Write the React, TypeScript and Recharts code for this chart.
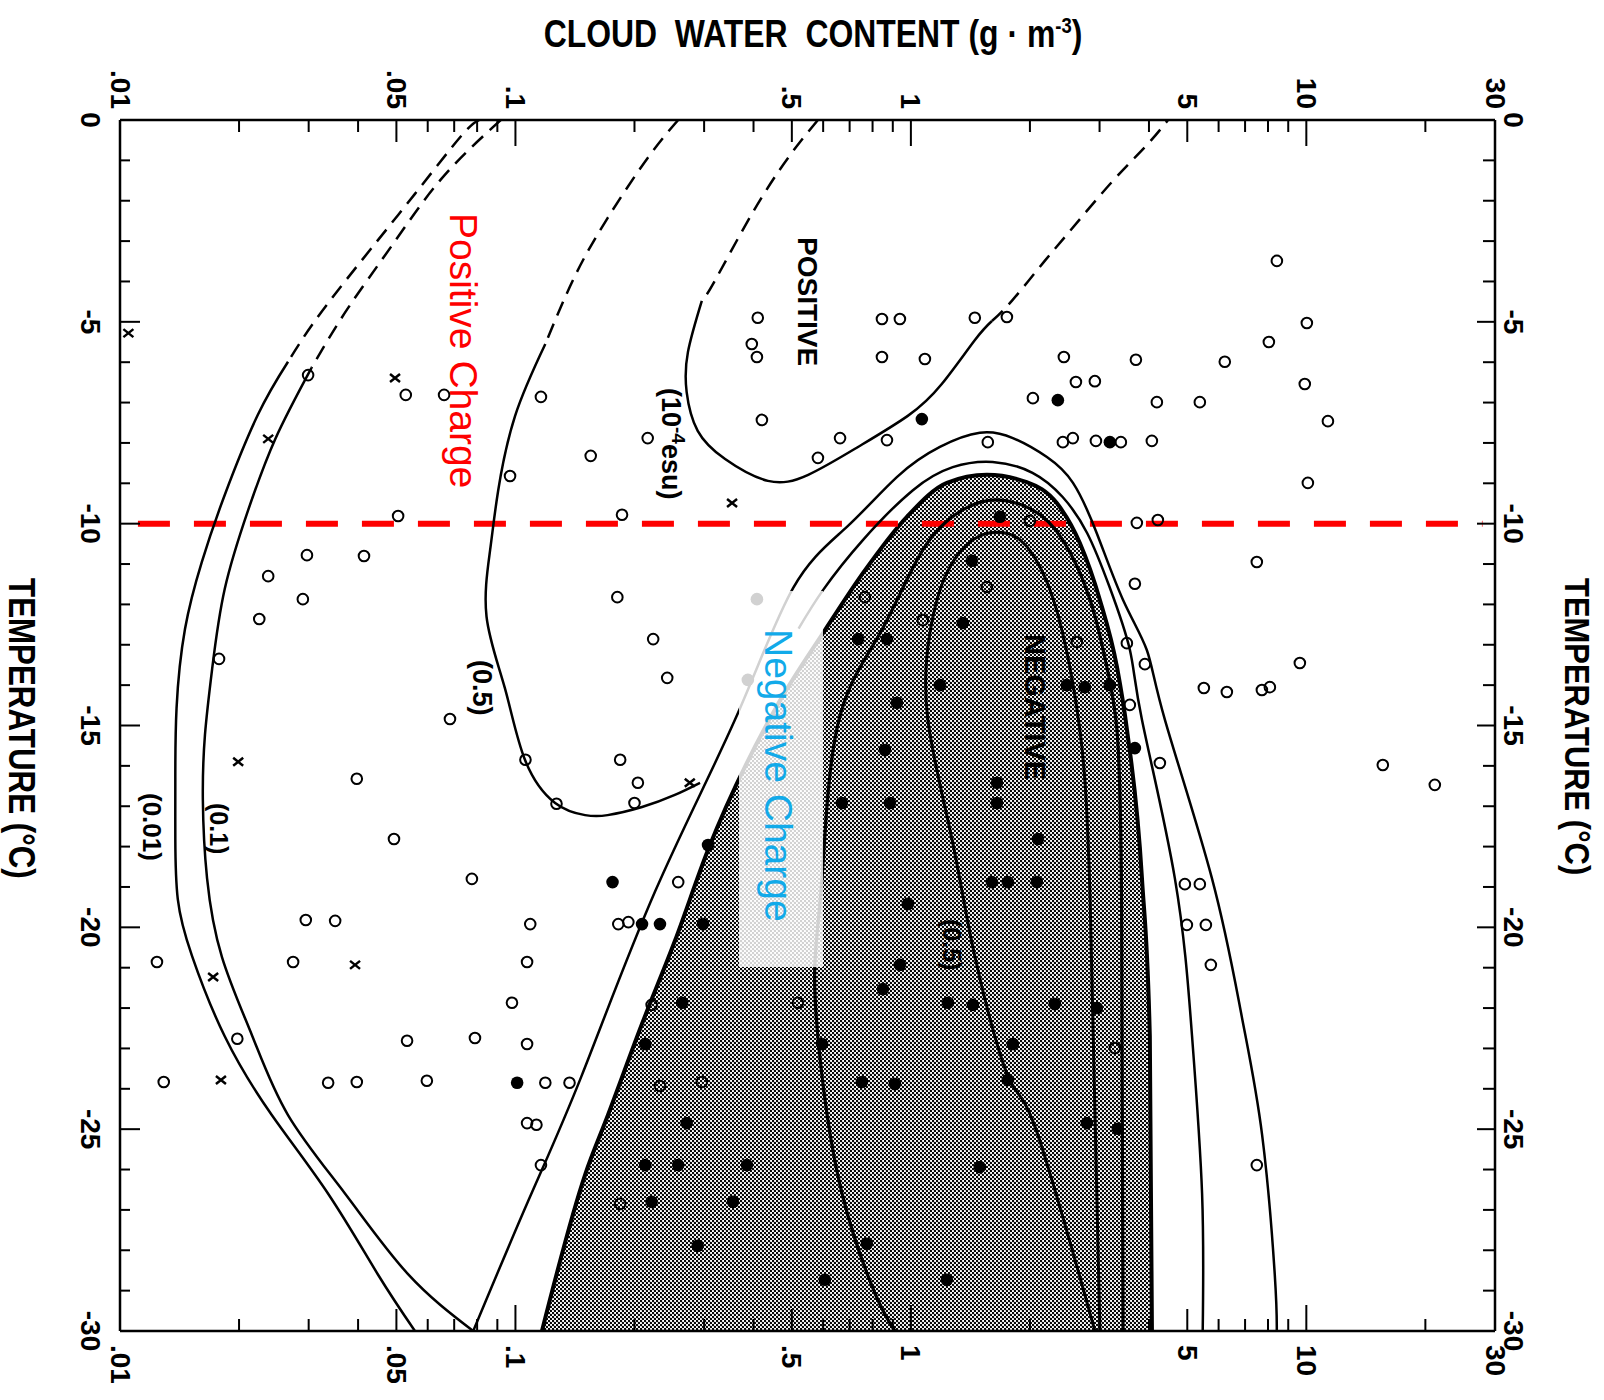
import React from 'react'
import { ComposedChart, XAxis, YAxis, Scatter, Area, ReferenceLine } from 'recharts'

// every pair is [cloud water content g/m3, temperature °C]
type Pt = [number, number]

const FONT = '"Liberation Sans", Arial, sans-serif'
const DASH = '15 9'

const LWC_TICKS = [
  0.01, 0.02, 0.03, 0.04, 0.05, 0.06, 0.07, 0.08, 0.09,
  0.1, 0.2, 0.3, 0.4, 0.5, 0.6, 0.7, 0.8, 0.9,
  1, 2, 3, 4, 5, 6, 7, 8, 9, 10, 20, 30
]
const LWC_LABELS = new Map<number, string>([
  [0.01, '.01'], [0.05, '.05'], [0.1, '.1'], [0.5, '.5'],
  [1, '1'], [5, '5'], [10, '10'], [30, '30']
])
const TEMP_TICKS = [
  0, -1, -2, -3, -4, -5, -6, -7, -8, -9, -10, -11, -12, -13, -14, -15,
  -16, -17, -18, -19, -20, -21, -22, -23, -24, -25, -26, -27, -28, -29, -30
]
const TEMP_LABELS = new Map<number, string>([
  [0, '0'], [-5, '-5'], [-10, '-10'], [-15, '-15'], [-20, '-20'], [-25, '-25'], [-30, '-30']
])

// positive contours, left side
const OUTER_DASHED: Pt[] = [[0.0809, 0], [0.0733, -0.37], [0.0557, -1.83], [0.04, -3.59], [0.0311, -4.98], [0.0266, -5.99]]
const OUTER_SOLID: Pt[] = [
  [0.0266, -5.99], [0.0223, -7.31], [0.0184, -9.29], [0.0161, -10.95], [0.0146, -12.61], [0.0139, -14.57],
  [0.0138, -16.4], [0.0138, -17.8], [0.014, -19.3], [0.0152, -20.7], [0.0184, -22.7], [0.0242, -24.65],
  [0.0336, -26.6], [0.0449, -28.6], [0.0557, -30]
]
const INNER_DASHED: Pt[] = [[0.0918, 0], [0.0652, -1.44], [0.0488, -3.1], [0.0376, -4.68], [0.0305, -6.14]]
const INNER_SOLID: Pt[] = [
  [0.0305, -6.14], [0.0247, -7.9], [0.0211, -9.66], [0.0184, -11.62], [0.0171, -13.6], [0.0164, -15.23],
  [0.0162, -16.84], [0.0166, -18.78], [0.0181, -20.73], [0.0216, -22.69], [0.0266, -24.65], [0.0371, -26.6],
  [0.0535, -28.59], [0.0782, -30]
]
const HALF_DASHED: Pt[] = [[0.258, 0], [0.216, -0.94], [0.171, -2.43], [0.141, -3.89], [0.119, -5.55]]
const HALF_SOLID: Pt[] = [
  [0.119, -5.55], [0.0998, -7.33], [0.0904, -9.19], [0.0863, -10.65], [0.0845, -12.3], [0.094, -14.07],
  [0.1057, -15.85], [0.126, -16.92], [0.15, -17.22], [0.171, -17.22], [0.209, -17.02], [0.253, -16.72], [0.293, -16.42]
]
const ESU_DASHED_L: Pt[] = [[0.582, 0], [0.489, -0.94], [0.396, -2.33], [0.319, -3.99], [0.296, -4.48]]
const ESU_SOLID: Pt[] = [
  [0.296, -4.48], [0.273, -5.75], [0.271, -6.74], [0.289, -7.7], [0.339, -8.4], [0.435, -8.94], [0.55, -8.79],
  [0.735, -8.1], [0.982, -7.33], [1.197, -6.54], [1.452, -5.45], [1.603, -4.98]
]
const ESU_DASHED_R: Pt[] = [[1.603, -4.98], [1.8, -4.48], [2.18, -3.49], [2.49, -2.82], [3.22, -1.54], [3.91, -0.67], [4.47, 0]]

// negative side contours
const ZERO_LINE: Pt[] = [
  [0.0782, -30], [0.1075, -26.8], [0.147, -23.68], [0.2253, -19.12], [0.359, -14.86], [0.504, -11.59],
  [0.689, -10.08], [0.923, -8.84], [1.184, -8.1], [1.494, -7.75], [1.811, -7.88], [2.208, -8.35], [2.57, -8.99],
  [2.95, -10.23], [3.44, -11.89], [3.95, -13.13], [4.39, -14.86], [5.77, -18.78], [6.87, -22.22], [7.73, -25.14],
  [8.32, -28.59], [8.42, -30]
]
const NEG_SECOND: Pt[] = [
  [0.52, -12.6], [0.6, -11.64], [0.757, -10.4], [1.012, -9.17], [1.276, -8.6], [1.61, -8.47], [2.03, -8.74],
  [2.42, -9.34], [2.79, -10.23], [3.18, -11.57], [3.58, -13.13], [3.84, -14.86], [4.65, -18.78], [5.14, -22.69],
  [5.45, -26.6], [5.47, -30]
]
const SHADE_TOP: Pt[] = [
  [0.1167, -30], [0.15, -26.13], [0.1714, -24.65], [0.209, -22.39], [0.253, -20.34], [0.307, -18.08],
  [0.458, -14.52], [0.607, -12.63], [0.757, -11.22], [0.977, -9.83], [1.233, -8.99], [1.556, -8.79],
  [1.963, -8.97], [2.339, -9.49], [2.675, -10.48], [3.006, -11.89], [3.32, -13.55], [3.52, -15.11],
  [3.84, -18.78], [4.02, -22.69], [4.07, -30]
]
const NEG_THIRD: Pt[] = [
  [0.912, -30], [0.811, -29.06], [0.67, -26.6], [0.596, -23.68], [0.571, -21.13], [0.596, -18.78],
  [0.653, -14.99], [0.836, -12.71], [1.072, -10.65], [1.352, -9.66], [1.648, -9.41], [2.03, -9.66],
  [2.42, -10.4], [2.84, -11.89], [3.13, -13.55], [3.32, -15.11], [3.41, -19.32], [3.44, -30]
]
const NEG_INNER: Pt[] = [
  [2.92, -30], [2.06, -24.94], [1.758, -23.68], [1.452, -20.73], [1.27, -17.81], [1.104, -14.86],
  [1.117, -12.71], [1.233, -11.22], [1.435, -10.4], [1.648, -10.21], [1.888, -10.4], [2.158, -11.22],
  [2.42, -12.71], [2.675, -15.11], [2.84, -19.32], [3.006, -30]
]

const OPEN_POINTS: Pt[] = [
  [0.0299, -6.32], [0.0528, -6.81], [0.066, -6.81], [0.116, -6.86], [0.0969, -8.82], [0.155, -8.32],
  [0.0505, -9.81], [0.0297, -10.78], [0.0414, -10.8], [0.0237, -11.3], [0.029, -11.87], [0.0225, -12.36],
  [0.0178, -13.35], [0.0683, -14.84],
  [0.41, -4.9], [0.396, -5.55], [0.408, -5.87], [0.845, -4.93], [0.938, -4.93], [1.451, -4.9], [1.749, -4.88],
  [0.845, -5.87], [1.085, -5.92], [2.035, -6.89], [0.42, -7.43], [0.662, -7.88], [0.87, -7.93], [1.565, -7.98],
  [0.582, -8.37], [0.216, -7.88], [0.186, -9.78], [0.181, -11.82], [0.223, -12.86], [0.242, -13.82],
  [2.423, -7.98], [2.568, -7.88], [2.937, -7.95], [3.396, -7.98], [4.068, -7.95], [4.188, -6.99], [5.379, -6.99],
  [3.727, -9.98], [4.212, -9.91], [3.685, -11.49], [5.506, -14.07], [3.517, -12.96], [3.906, -13.48], [3.578, -14.49],
  [8.424, -3.49], [10.03, -5.03], [8.04, -5.5], [6.22, -5.99], [2.437, -5.87], [3.707, -5.94], [2.614, -6.49],
  [2.919, -6.47], [9.91, -6.54], [11.34, -7.46], [10.09, -8.99], [7.495, -10.95], [9.63, -13.45], [6.295, -14.17],
  [7.72, -14.12], [8.087, -14.05], [4.262, -15.93], [15.61, -15.98], [21.13, -16.47], [4.93, -18.93], [5.379, -18.93],
  [4.988, -19.94], [5.571, -19.94], [5.735, -20.93], [7.495, -25.89], [3.28, -22.99],
  [0.0397, -16.32], [0.0493, -17.81], [0.0776, -18.8], [0.0295, -19.82], [0.035, -19.84], [0.0124, -20.86],
  [0.0274, -20.86], [0.109, -19.92], [0.107, -20.86], [0.098, -21.87], [0.0198, -22.76], [0.0532, -22.81],
  [0.079, -22.74], [0.107, -22.89], [0.0129, -23.83], [0.0336, -23.85], [0.0397, -23.83], [0.0597, -23.8],
  [0.119, -23.85], [0.137, -23.85], [0.107, -24.85], [0.113, -24.89], [0.116, -25.89], [0.106, -15.85],
  [0.127, -16.94], [0.184, -15.85], [0.204, -16.42], [0.2, -16.92], [0.258, -18.88], [0.182, -19.92],
  [0.193, -19.87], [0.221, -21.92], [0.232, -23.93], [0.296, -23.83], [0.184, -26.85], [0.518, -21.87],
  [0.765, -11.82], [1.072, -12.39], [1.556, -11.57], [2.0, -9.93], [2.629, -12.93]
]
const FILLED_POINTS: Pt[] = [
  [1.066, -7.41], [2.353, -6.94], [3.186, -7.98], [1.426, -10.92], [1.353, -12.46], [0.735, -12.86], [0.87, -12.86],
  [1.679, -9.83], [1.184, -14.0], [0.922, -14.44], [2.48, -14.0], [2.754, -14.05], [3.186, -14.0], [0.86, -15.61],
  [3.685, -15.56], [0.669, -16.92], [0.885, -16.92], [1.651, -16.42], [1.651, -16.92], [2.095, -17.81],
  [1.603, -18.88], [1.759, -18.88], [2.083, -18.88], [0.983, -19.42], [0.938, -20.93], [0.85, -21.53],
  [1.241, -21.87], [1.435, -21.92], [2.312, -21.9], [2.953, -22.0], [0.596, -22.89], [1.811, -22.89],
  [0.752, -23.83], [0.911, -23.88], [1.759, -23.78], [2.786, -24.85], [3.337, -24.99], [1.494, -25.94],
  [0.774, -27.84], [0.606, -28.73], [1.233, -28.73], [0.307, -17.96], [0.176, -18.88], [0.209, -19.92],
  [0.232, -19.92], [0.298, -19.92], [0.264, -21.87], [0.213, -22.89], [0.271, -24.85], [0.213, -25.89],
  [0.258, -25.89], [0.385, -25.89], [0.221, -26.8], [0.355, -26.8], [0.289, -27.89], [0.101, -23.85],
  [0.408, -11.87], [0.387, -13.87]
]
const CROSS_POINTS: Pt[] = [
  [0.0105, -5.28], [0.0237, -7.9], [0.0496, -6.39], [0.353, -9.49], [0.0199, -15.9], [0.0393, -20.93],
  [0.0172, -21.23], [0.018, -23.78], [0.276, -16.42]
]

const REVERSAL_T = -10
const REVERSAL_SPAN: [number, number] = [0.0111, 27.9]

const rows = (pts: Pt[]) => pts.map(([w, t]) => ({ w, t }))

const AXIS_LINE = { stroke: '#000', strokeWidth: 2.5 }
const LABEL_STYLE = { fontFamily: FONT, fontWeight: 700, fontSize: 28, fill: '#000' }

function tickLen(v: number, major: boolean) {
  if (!major) return 12
  return [0.1, 1, 10].includes(v) ? 26 : 22
}

function TopTick(p: any) {
  const v = p.payload.value
  const label = LWC_LABELS.get(v)
  return (
    <g>
      <line x1={p.x} y1={p.y} x2={p.x} y2={p.y + tickLen(v, !!label)} stroke="#000" strokeWidth={2} />
      {label && (
        <text transform={`translate(${p.x},${p.y - 11}) rotate(90)`} textAnchor="end" dominantBaseline="central" {...LABEL_STYLE}>
          {label}
        </text>
      )}
    </g>
  )
}

function BottomTick(p: any) {
  const v = p.payload.value
  const label = LWC_LABELS.get(v)
  return (
    <g>
      <line x1={p.x} y1={p.y} x2={p.x} y2={p.y - tickLen(v, !!label)} stroke="#000" strokeWidth={2} />
      {label && (
        <text transform={`translate(${p.x},${p.y + 14}) rotate(90)`} textAnchor="start" dominantBaseline="central" {...LABEL_STYLE}>
          {label}
        </text>
      )}
    </g>
  )
}

function LeftTick(p: any) {
  const v = p.payload.value
  const label = TEMP_LABELS.get(v)
  return (
    <g>
      <line x1={p.x} y1={p.y} x2={p.x + (label ? 20 : 10)} y2={p.y} stroke="#000" strokeWidth={2} />
      {label && (
        <text transform={`translate(${p.x - 30},${p.y}) rotate(90)`} textAnchor="middle" dominantBaseline="central" {...LABEL_STYLE}>
          {label}
        </text>
      )}
    </g>
  )
}

function RightTick(p: any) {
  const v = p.payload.value
  const label = TEMP_LABELS.get(v)
  return (
    <g>
      <line x1={p.x} y1={p.y} x2={p.x - (label ? 18 : 12)} y2={p.y} stroke="#000" strokeWidth={2} />
      {label && (
        <text transform={`translate(${p.x + 18},${p.y}) rotate(90)`} textAnchor="middle" dominantBaseline="central" {...LABEL_STYLE}>
          {label}
        </text>
      )}
    </g>
  )
}

const openDot = (p: any) => <circle cx={p.cx} cy={p.cy} r={5.3} fill="none" stroke="#000" strokeWidth={2} />
const filledDot = (p: any) => <circle cx={p.cx} cy={p.cy} r={6.3} fill="#000" />
const crossMark = (p: any) => (
  <path
    d={`M${p.cx - 5},${p.cy - 4}L${p.cx + 5},${p.cy + 4}M${p.cx - 5},${p.cy + 4}L${p.cx + 5},${p.cy - 4}`}
    stroke="#000"
    strokeWidth={2.5}
    fill="none"
  />
)

function contour(key: string, pts: Pt[], width: number, dash?: string) {
  return (
    <Scatter
      key={key}
      data={rows(pts)}
      xAxisId="b"
      yAxisId="l"
      fill="none"
      line={{ stroke: '#000', strokeWidth: width, strokeDasharray: dash, fill: 'none' }}
      lineJointType="natural"
      shape={() => <g />}
      isAnimationActive={false}
    />
  )
}

function rotText(x: number, y: number, size: number, color: string, weight: number, content: React.ReactNode, squeeze = 1) {
  return (
    <text
      transform={`translate(${x},${y}) rotate(90) scale(${squeeze},1)`}
      fontFamily={FONT}
      fontSize={size}
      fontWeight={weight}
      fill={color}
    >
      {content}
    </text>
  )
}

export default function App() {
  return (
    <div style={{ position: 'absolute', left: 0, top: 0, width: 1604, height: 1400, background: '#fff' }}>
      <svg width={0} height={0} style={{ position: 'absolute' }}>
        <defs>
          <pattern id="halftone" width={4} height={4} patternUnits="userSpaceOnUse">
            <rect width={4} height={4} fill="#fff" />
            <circle cx={1} cy={1} r={1.2} fill="#000" />
            <circle cx={3} cy={3} r={1.2} fill="#000" />
          </pattern>
        </defs>
      </svg>
      <ComposedChart width={1604} height={1400} margin={{ top: 0, right: 0, bottom: 0, left: 0 }}>
        <XAxis
          xAxisId="b" orientation="bottom" dataKey="w" type="number" scale="log" domain={[0.01, 30]} allowDataOverflow
          ticks={LWC_TICKS} interval={0} height={69} tickSize={0} tickMargin={0} tickLine={false} axisLine={AXIS_LINE}
          tick={(p: any) => <BottomTick {...p} />}
        />
        <XAxis
          xAxisId="t" orientation="top" dataKey="w" type="number" scale="log" domain={[0.01, 30]} allowDataOverflow
          ticks={LWC_TICKS} interval={0} height={120} tickSize={0} tickMargin={0} tickLine={false} axisLine={AXIS_LINE}
          tick={(p: any) => <TopTick {...p} />}
        />
        <YAxis
          yAxisId="l" orientation="left" dataKey="t" type="number" domain={[-30, 0]} allowDataOverflow
          ticks={TEMP_TICKS} interval={0} width={120} tickSize={0} tickMargin={0} tickLine={false} axisLine={AXIS_LINE}
          tick={(p: any) => <LeftTick {...p} />}
        />
        <YAxis
          yAxisId="r" orientation="right" dataKey="t" type="number" domain={[-30, 0]} allowDataOverflow
          ticks={TEMP_TICKS} interval={0} width={109} tickSize={0} tickMargin={0} tickLine={false} axisLine={AXIS_LINE}
          tick={(p: any) => <RightTick {...p} />}
        />

        <Area
          data={rows(SHADE_TOP)} xAxisId="b" yAxisId="l" dataKey="t" baseValue={-30} type="monotone"
          fill="url(#halftone)" fillOpacity={1} stroke="#000" strokeWidth={4} dot={false} activeDot={false}
          isAnimationActive={false}
        />

        {contour('outerD', OUTER_DASHED, 2.5, DASH)}
        {contour('outerS', OUTER_SOLID, 2.5)}
        {contour('innerD', INNER_DASHED, 2.5, DASH)}
        {contour('innerS', INNER_SOLID, 2.5)}
        {contour('halfD', HALF_DASHED, 2.5, DASH)}
        {contour('halfS', HALF_SOLID, 2.5)}
        {contour('esuDL', ESU_DASHED_L, 2.5, DASH)}
        {contour('esuS', ESU_SOLID, 2.5)}
        {contour('esuDR', ESU_DASHED_R, 2.5, DASH)}
        {contour('zero', ZERO_LINE, 2.5)}
        {contour('neg2', NEG_SECOND, 2.5)}
        {contour('neg3', NEG_THIRD, 3.2)}
        {contour('neg4', NEG_INNER, 3)}

        <Scatter data={rows(OPEN_POINTS)} xAxisId="b" yAxisId="l" shape={openDot} isAnimationActive={false} />
        <Scatter data={rows(FILLED_POINTS)} xAxisId="b" yAxisId="l" shape={filledDot} isAnimationActive={false} />
        {/* crosses sit on the top/right axes (same scales) so those axes get data too */}
        <Scatter data={rows(CROSS_POINTS)} xAxisId="t" yAxisId="r" shape={crossMark} isAnimationActive={false} />

        <ReferenceLine
          xAxisId="b" yAxisId="l"
          segment={[{ x: REVERSAL_SPAN[0], y: REVERSAL_T }, { x: REVERSAL_SPAN[1], y: REVERSAL_T }]}
          stroke="#fe0000" strokeWidth={6} strokeDasharray="32 24"
        />
      </ComposedChart>

      <svg width={1604} height={1400} style={{ position: 'absolute', left: 0, top: 0, pointerEvents: 'none' }}>
        <g transform="translate(813,47) scale(0.84,1)">
          <text textAnchor="middle" fontFamily={FONT} fontSize={38} fontWeight={700} style={{ whiteSpace: 'pre' }}>
            {'CLOUD  WATER  CONTENT (g · m'}
            <tspan dy={-14} fontSize={22}>-3</tspan>
            <tspan dy={14}>)</tspan>
          </text>
        </g>
        {rotText(9, 578, 36, '#000', 700, 'TEMPERATURE (°C)', 0.87)}
        {rotText(1565, 578, 36, '#000', 700, 'TEMPERATURE (°C)', 0.86)}

        {rotText(450, 213, 39, '#fe0000', 400, 'Positive Charge')}
        <rect x={739} y={591} width={84} height={376} fill="#fff" fillOpacity={0.82} />
        {rotText(765, 629, 39, '#12aae9', 400, 'Negative Charge')}

        {rotText(798, 237, 28, '#000', 700, 'POSITIVE')}
        {rotText(662, 388, 27, '#000', 700, <>(10<tspan dy={-10} fontSize={19}>-4</tspan><tspan dy={10}>esu)</tspan></>)}
        {rotText(473, 660, 27, '#000', 700, '(0.5)')}
        {rotText(210, 803, 25, '#000', 700, '(0.1)')}
        {rotText(143, 793, 26, '#000', 700, '(0.01)')}
        {rotText(1025, 634, 29, '#000', 700, 'NEGATIVE')}
        {rotText(943, 919, 25, '#000', 700, '(0.5)')}
      </svg>
    </div>
  )
}
